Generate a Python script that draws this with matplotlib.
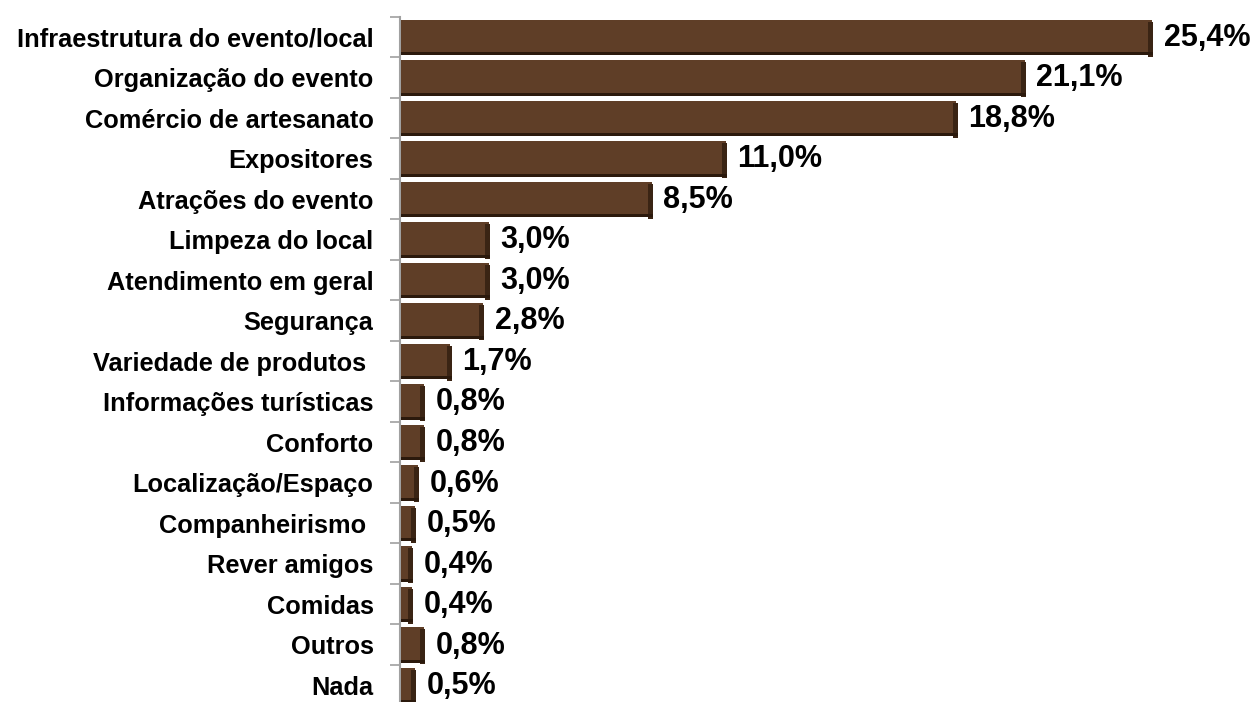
import matplotlib.pyplot as plt
from matplotlib.patches import Rectangle

categorias = ["Infraestrutura do evento/local", "Organização do evento",
              "Comércio de artesanato", "Expositores", "Atrações do evento",
              "Limpeza do local", "Atendimento em geral", "Segurança",
              "Variedade de produtos ", "Informações turísticas", "Conforto",
              "Localização/Espaço", "Companheirismo ", "Rever amigos",
              "Comidas", "Outros", "Nada"]
valores = [25.4, 21.1, 18.8, 11.0, 8.5, 3.0, 3.0, 2.8, 1.7, 0.8, 0.8,
           0.6, 0.5, 0.4, 0.4, 0.8, 0.5]
rotulos = ["25,4%", "21,1%", "18,8%", "11,0%", "8,5%", "3,0%", "3,0%",
           "2,8%", "1,7%", "0,8%", "0,8%", "0,6%", "0,5%", "0,4%", "0,4%",
           "0,8%", "0,5%"]

plt.rcParams['font.family'] = ['Liberation Sans', 'DejaVu Sans']

fig = plt.figure(figsize=(12.54, 7.02), dpi=100)
ax = fig.add_axes([400 / 1254, -0.005, 854 / 1254, 0.981])

n = len(categorias)
pos = list(range(n))
ax.set_ylim(n - 0.5, -0.5)
ax.set_xlim(0, 854 / 29.6)

frente = '#5f3e27'
lado = '#3a2414'
base = '#2b190c'
h = 0.86
prof = 0.17  # profundidade do lado direito em %

for y, v, r in zip(pos, valores, rotulos):
    # face frontal
    ax.add_patch(Rectangle((0.05, y - h / 2), v - 0.05, h, facecolor=frente,
                           edgecolor='none', zorder=3))
    # lado direito (efeito 3D)
    ax.add_patch(Rectangle((v - prof + 0.05, y - h / 2 + 0.05), prof, h,
                           facecolor=lado, edgecolor='none', zorder=4))
    # base escura
    ax.add_patch(Rectangle((0.05, y + h / 2 - 0.06), v, 0.08,
                           facecolor=base, edgecolor='none', zorder=4))
    ax.text(v + 0.4, y + 0.02, r, va='center', ha='left', fontsize=22,
            fontweight='bold', color='black')

ax.set_yticks(pos)
ax.set_yticklabels(categorias, fontsize=18.3, fontweight='bold')
ax.tick_params(axis='y', which='major', length=0, pad=19)
ax.set_yticks([p - 0.5 for p in pos] + [n - 0.5], minor=True)
ax.tick_params(axis='y', which='minor', length=7, width=1.2, color='#a0a0a0')
ax.set_xticks([])

for s in ['top', 'right', 'bottom']:
    ax.spines[s].set_visible(False)
ax.spines['left'].set_color('#a0a0a0')
ax.spines['left'].set_linewidth(1.5)

fig.savefig('out.png', dpi=100)
